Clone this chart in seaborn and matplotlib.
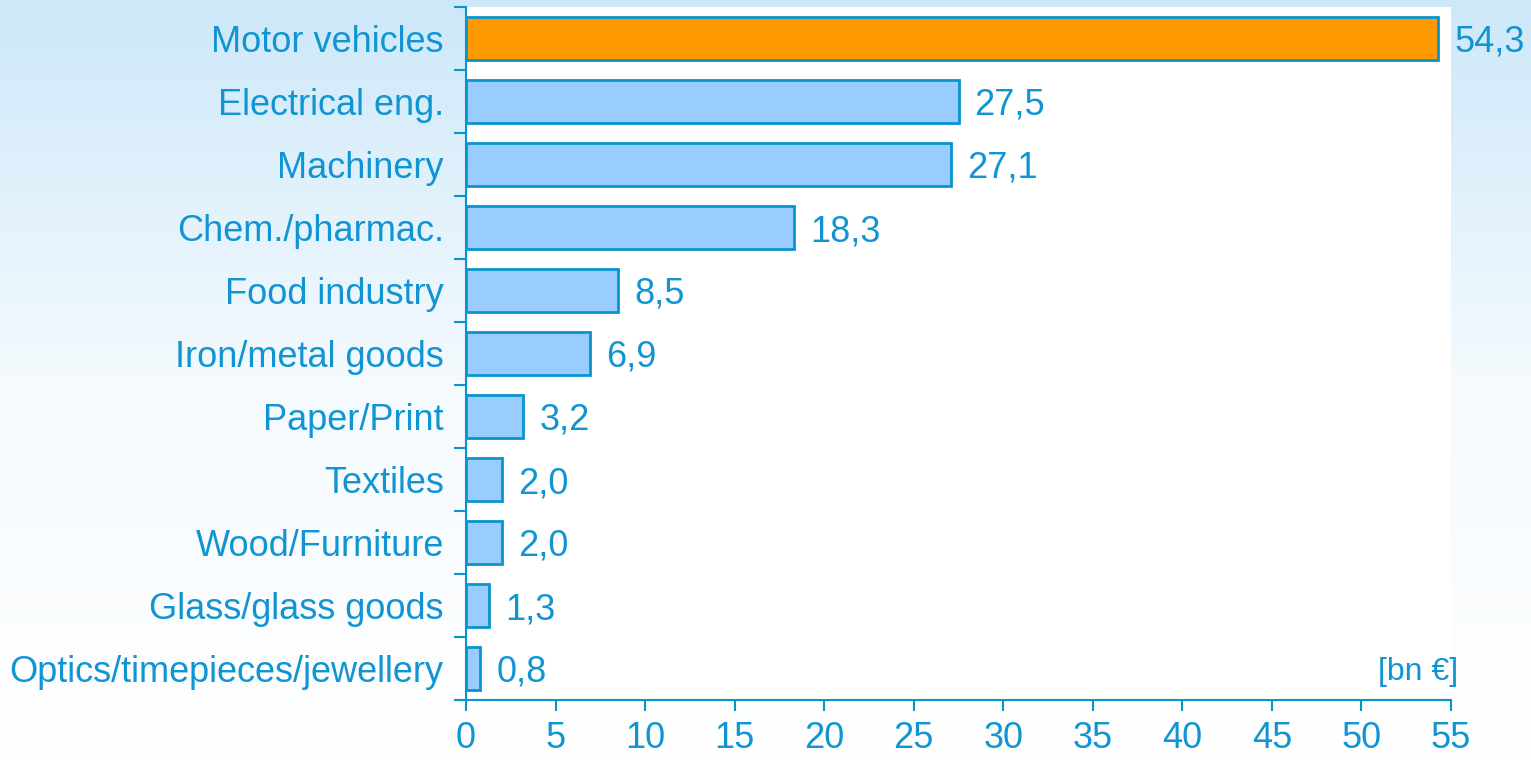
import numpy as np
import pandas as pd
import seaborn as sns
import matplotlib.pyplot as plt
from matplotlib.colors import LinearSegmentedColormap

# sector values, bn euro
sectors = ["Motor vehicles", "Electrical eng.", "Machinery", "Chem./pharmac.",
           "Food industry", "Iron/metal goods", "Paper/Print", "Textiles",
           "Wood/Furniture", "Glass/glass goods", "Optics/timepieces/jewellery"]
values = [54.3, 27.5, 27.1, 18.3, 8.5, 6.9, 3.2, 2.0, 2.0, 1.3, 0.8]
xticks = [0, 5, 10, 15, 20, 25, 30, 35, 40, 45, 50, 55]

blue = "#1095d2"
edge = "#0a94cf"

df = pd.DataFrame({"sector": sectors, "value": values})
df["hl"] = ["top" if i == 0 else "rest" for i in range(len(df))]

sns.set_theme(style="white")
plt.rcParams['font.family'] = ['Liberation Sans', 'DejaVu Sans']

fig = plt.figure(figsize=(15.31, 7.61), dpi=100)

# gradient background
bg = fig.add_axes([0, 0, 1, 1], zorder=-10)
grad = np.linspace(1, 0, 256).reshape(-1, 1)
cmap = LinearSegmentedColormap.from_list("bg", ["#ffffff", "#f4fafe", "#cde8f9"])
bg.imshow(grad, aspect="auto", cmap=cmap, extent=[0, 1, 0, 1], origin="upper")
bg.axis("off")

ax = fig.add_axes([466 / 1531, 1 - 700 / 761, (1451 - 466) / 1531, (700 - 7) / 761])
ax.set_facecolor("white")

sns.barplot(data=df, x="value", y="sector", hue="hl", palette={"top": "#ff9900", "rest": "#99ccff"},
            dodge=False, legend=False, width=0.68, edgecolor=edge, linewidth=2,
            saturation=1, ax=ax)

for i, v in enumerate(values):
    ax.text(v + 0.9, i, f"{v:.1f}".replace(".", ","), va="center_baseline", ha="left",
            fontsize=26, color=blue, clip_on=False)

ax.set_xlim(0, 55)
ax.set_ylim(len(sectors) - 0.5, -0.5)
ax.set_xticks(xticks)
ax.set_xticklabels([str(t) for t in xticks], fontsize=26, color=blue)
ax.set_yticks(range(len(sectors)))
ax.set_yticklabels(sectors, fontsize=26, color=blue, va="center_baseline")
ax.tick_params(axis="y", length=0, pad=16)
ax.set_yticks(np.arange(-0.5, len(sectors), 1), minor=True)
ax.tick_params(axis="y", which="minor", length=8.5, width=1.5, color=edge, left=True)
ax.tick_params(axis="x", length=8, width=1.5, color=edge, bottom=True, pad=7)
ax.set_xlabel("")
ax.set_ylabel("")

for s in ["top", "right"]:
    ax.spines[s].set_visible(False)
for s in ["left", "bottom"]:
    ax.spines[s].set_color(edge)
    ax.spines[s].set_linewidth(1.5)

ax.text(1.007, 0.04, "[bn €]", transform=ax.transAxes, ha="right", va="center",
        fontsize=23, color=blue, clip_on=False)

fig.savefig("out.png", dpi=100)
